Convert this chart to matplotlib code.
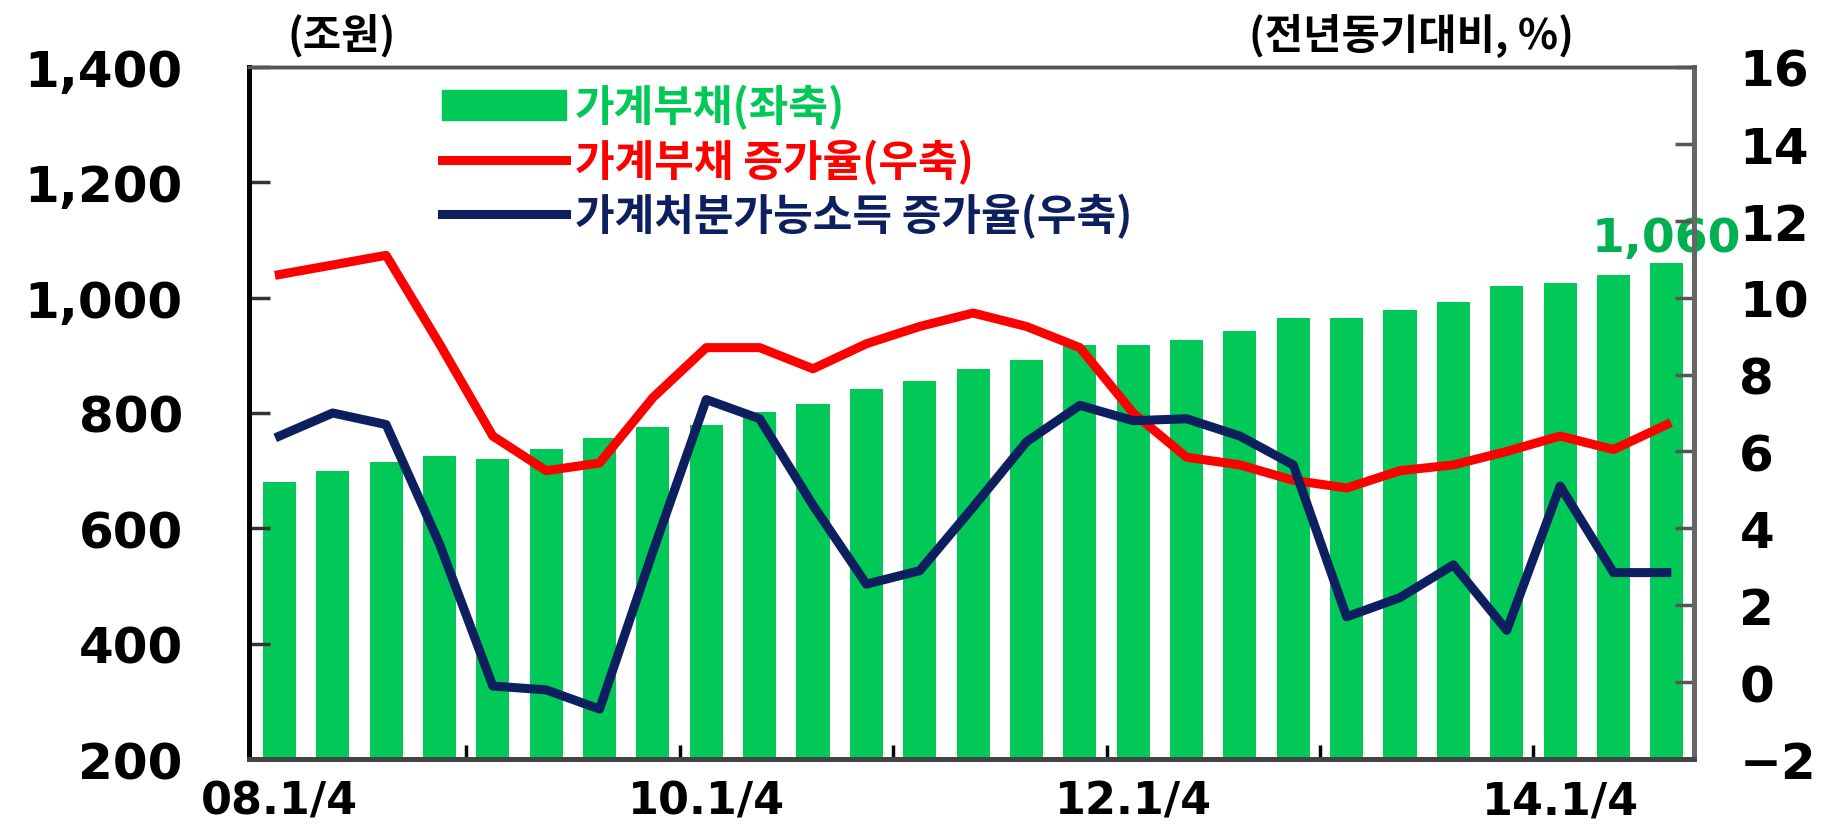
"""
Household debt vs. growth of debt and disposable income (quarterly, 08.1/4 - 14.3/4)
"""

import matplotlib.pyplot as plt
import matplotlib.ticker as mticker
from matplotlib.patches import Patch
from matplotlib.lines import Line2D
import numpy as np

plt.rcParams["font.family"] = ["DejaVu Sans", "Noto Sans CJK KR"]
plt.rcParams["font.weight"] = "bold"

# quarters 08.1/4 ... 14.3/4
quarters = [f"{y:02d}.{q}/4" for y in range(8, 15) for q in range(1, 5)][:27]
tick_labels = ["08.1/4", "10.1/4", "12.1/4", "14.1/4"]

# household debt, trillion won (left axis)
debt = [680, 699, 715, 725, 721, 737, 756, 776, 780, 802, 816, 841, 855, 877,
        892, 918, 918, 926, 943, 964, 964, 979, 993, 1020, 1026, 1040, 1060]
# household debt growth, % yoy (right axis)
debt_growth = [10.6, 10.85, 11.1, 8.8, 6.4, 5.5, 5.7, 7.4, 8.7, 8.7, 8.15,
               8.8, 9.25, 9.6, 9.25, 8.7, 7.0, 5.85, 5.65, 5.25, 5.05, 5.5,
               5.65, 6.0, 6.4, 6.05, 6.7]
# household disposable income growth, % yoy (right axis)
income_growth = [6.4, 7.0, 6.7, 3.6, -0.1, -0.2, -0.7, 3.4, 7.35, 6.85, 4.6,
                 2.55, 2.9, 4.55, 6.25, 7.2, 6.8, 6.85, 6.4, 5.65, 1.7, 2.2,
                 3.05, 1.35, 5.1, 2.85, 2.85]

labels = ["가계부채(좌축)", "가계부채 증가율(우축)", "가계처분가능소득 증가율(우축)"]

BAR_GREEN = "#00C957"
RED = "#FF0000"
NAVY = "#0D1F5E"
KR_FONT = ["Noto Sans CJK KR", "DejaVu Sans"]
LW = 6.5

fig, ax = plt.subplots(figsize=(18.21, 8.28), dpi=100)
fig.subplots_adjust(left=0.137, right=0.930, bottom=0.082, top=0.918)

x = np.arange(len(quarters))
ax.bar(x, debt, width=0.62, color=BAR_GREEN, zorder=1)
ax.set_ylim(200, 1400)
ax.set_xlim(-0.56, 26.5)
ax.set_yticks(range(200, 1401, 200))
ax.yaxis.set_major_formatter(mticker.StrMethodFormatter("{x:,.0f}"))
ax.tick_params(axis="y", labelsize=36, pad=48, direction="in", length=15,
               width=2.5, color="#333333")

# x ticks: labels at each 1/4 of even years, small marks between years
tick_pos = [quarters.index(t) for t in tick_labels]
ax.set_xticks(tick_pos)
ax.set_xticklabels(tick_labels)
ax.set_xticks(np.arange(3.5, 26, 4), minor=True)
ax.tick_params(axis="x", which="major", length=0, labelsize=32, pad=15)
ax.tick_params(axis="x", which="minor", direction="in", length=10, width=2.5,
               color="black")

ax2 = ax.twinx()
ax2.plot(x, debt_growth, color=RED, lw=LW, zorder=3)
ax2.plot(x, income_growth, color=NAVY, lw=LW, zorder=3)
ax2.set_ylim(-2, 16)
ax2.set_yticks(range(-2, 17, 2))
ax2.tick_params(axis="y", labelsize=36, pad=33, direction="in", length=14,
                width=2.5, color="#555555")

# frame
for a in (ax, ax2):
    a.spines["left"].set_color("black")
    a.spines["left"].set_linewidth(3.5)
    a.spines["bottom"].set_color("#444444")
    a.spines["bottom"].set_linewidth(3.5)
    a.spines["top"].set_color("#555555")
    a.spines["top"].set_linewidth(2.5)
    a.spines["right"].set_color("#666666")
    a.spines["right"].set_linewidth(3.5)

# last value label
ax.text(x[-1], debt[-1] + 4, f"{debt[-1]:,}", ha="center", va="bottom",
        color="#00B050", fontsize=34, clip_on=False, zorder=5)

# unit labels
fig.text(342 / 1821, 1 - 36 / 828, "(조원)", ha="center", va="center",
         fontsize=30, family=KR_FONT)
fig.text(1411 / 1821, 1 - 36 / 828, "(전년동기대비, %)", ha="center",
         va="center", fontsize=30, family=KR_FONT)

handles = [Patch(color=BAR_GREEN),
           Line2D([], [], color=RED, lw=LW),
           Line2D([], [], color=NAVY, lw=LW)]
leg = ax2.legend(handles, labels, loc="upper left", bbox_to_anchor=(0.133, 0.975),
                 frameon=False, handlelength=2.9, handletextpad=0.2,
                 labelspacing=0.22, borderpad=0, borderaxespad=0,
                 prop={"family": KR_FONT, "size": 31, "weight": "bold"})
for t, c in zip(leg.get_texts(), [BAR_GREEN, RED, NAVY]):
    t.set_color(c)

plt.savefig("out.png", dpi=100)
